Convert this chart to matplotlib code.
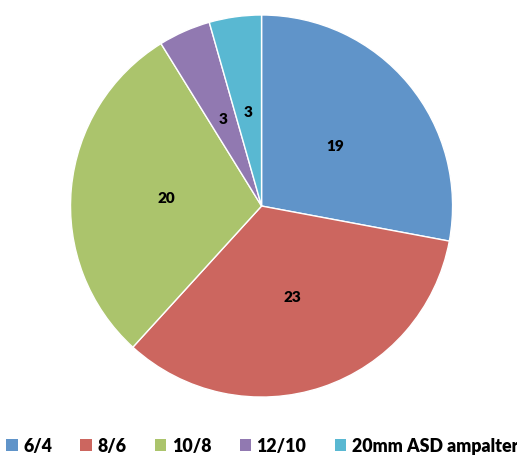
import matplotlib.pyplot as plt
from matplotlib.patches import Patch

labels = ['6/4', '8/6', '10/8', '12/10', '20mm ASD ampalter']
values = [19, 23, 20, 3, 3]
colors = ['#6094c9', '#cc665f', '#abc46c', '#9179b1', '#59b8d2']

plt.rcParams['font.family'] = ['Lato', 'DejaVu Sans']

fig = plt.figure(figsize=(5.17, 4.56), dpi=100)
ax = fig.add_axes([0.1364, 0.127, 0.739, 0.838])
wedges, texts = ax.pie(values, colors=colors, startangle=90, counterclock=False,
                       labels=[str(v) for v in values], labeldistance=0.5,
                       wedgeprops=dict(edgecolor='white', linewidth=1))
for t in texts:
    t.set_fontsize(11)
    t.set_fontweight('heavy')
    t.set_color('black')
    t.set_ha('center')
    t.set_va('center')
ax.set_xlim(-1, 1)
ax.set_ylim(-1, 1)
ax.set_aspect('equal')

handles = [Patch(facecolor=c, edgecolor='none') for c in colors]
fig.legend(handles, labels, loc='center', bbox_to_anchor=(0.507, 0.02),
           ncol=5, frameon=False, handlelength=0.65, handleheight=0.65,
           handletextpad=0.3, columnspacing=1.6,
           prop=dict(size=12.8, weight='heavy'))

fig.savefig('out.png', dpi=100, facecolor='white')
